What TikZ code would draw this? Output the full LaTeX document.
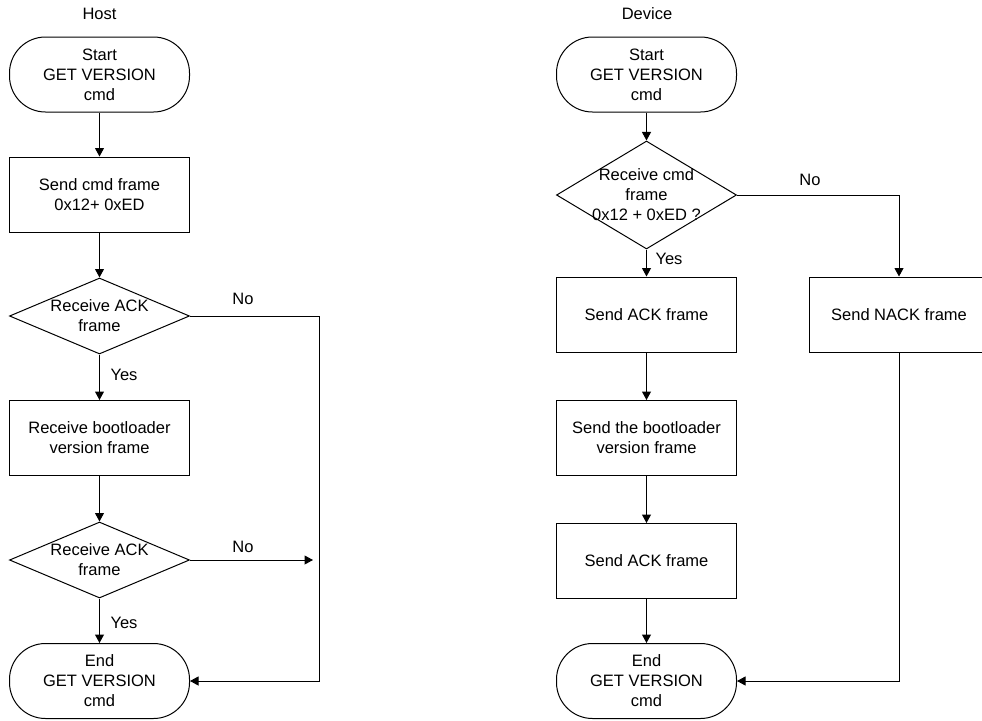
\documentclass[tikz,border=0pt]{standalone}
\usepackage{fontspec}
\setmainfont{Liberation Sans}
\usetikzlibrary{arrows.meta,shapes.geometric}
\begin{document}
\begin{tikzpicture}[x=1pt,y=-1pt,
  font=\fontsize{16.5}{20}\selectfont,
  line width=1pt,
  every node/.style={inner sep=0pt},
  term/.style={draw,rectangle,rounded corners=36pt,minimum width=180pt,minimum height=75pt,align=center},
  proc/.style={draw,rectangle,minimum width=180pt,minimum height=75pt,align=center},
  dec/.style={draw,diamond,minimum width=180pt,minimum height=#1},
  dec/.default=76pt,
  arr/.style={-{Triangle[length=8.5pt,width=9pt]}},
  lbl/.style={anchor=west}
]
\useasboundingbox (0,0) rectangle (982,720);

% Host
\node (host) at (99.5,14) {Host};
\node[term] (hs) at (99.5,74.5) {Start\\GET VERSION\\cmd};
\node[proc] (hcmd) at (99.5,194.5) {Send cmd frame\\0x12+ 0xED};
\node[dec, label={[align=center]center:Receive ACK\\frame}] (hd1) at (99.5,316) {};
\node[proc] (hver) at (99.5,438) {Receive bootloader\\version frame};
\node[dec, label={[align=center]center:Receive ACK\\frame}] (hd2) at (99.5,560) {};
\node[term] (he) at (99.5,681) {End\\GET VERSION\\cmd};

\draw[arr] (hs) -- (hcmd);
\draw[arr] (hcmd) -- (hd1);
\draw[arr] (hd1) -- (hver);
\draw[arr] (hver) -- (hd2);
\draw[arr] (hd2) -- (he);
\coordinate (hc1) at (319,316);
\coordinate (hc2) at (319,681);
\coordinate (hc3) at (313,560);
\draw[arr] (hd1.east) -- (hc1) -- (hc2) -- (he.east);
\draw[arr] (hd2.east) -- (hc3);
\node (hno1) at (243,299) {No};
\node (hno2) at (243,547) {No};
\node[lbl] (hyes1) at (110,375) {Yes};
\node[lbl] (hyes2) at (110,623) {Yes};

% Device
\node (dev) at (647,14) {Device};
\node[term] (ds) at (646.5,74.5) {Start\\GET VERSION\\cmd};
\node[dec=108pt, label={[align=center]center:Receive cmd\\frame\\0x12 + 0xED ?}] (dd) at (646.5,195) {};
\node[proc] (dack) at (646.5,314.5) {Send ACK frame};
\node[proc] (dnack) at (899,314.5) {Send NACK frame};
\node[proc] (dver) at (646.5,438) {Send the bootloader\\version frame};
\node[proc] (dack2) at (646.5,561) {Send ACK frame};
\node[term] (de) at (646.5,681) {End\\GET VERSION\\cmd};

\draw[arr] (ds) -- (dd);
\draw[arr] (dd) -- (dack);
\draw[arr] (dack) -- (dver);
\draw[arr] (dver) -- (dack2);
\draw[arr] (dack2) -- (de);
\draw[arr] (dd.east) -| (dnack.north);
\coordinate (dc1) at (899,681);
\draw[arr] (dnack.south) -- (dc1) -- (de.east);
\node (dno) at (810,180) {No};
\node[lbl] (dyes) at (655,259) {Yes};
\end{tikzpicture}
\end{document}
